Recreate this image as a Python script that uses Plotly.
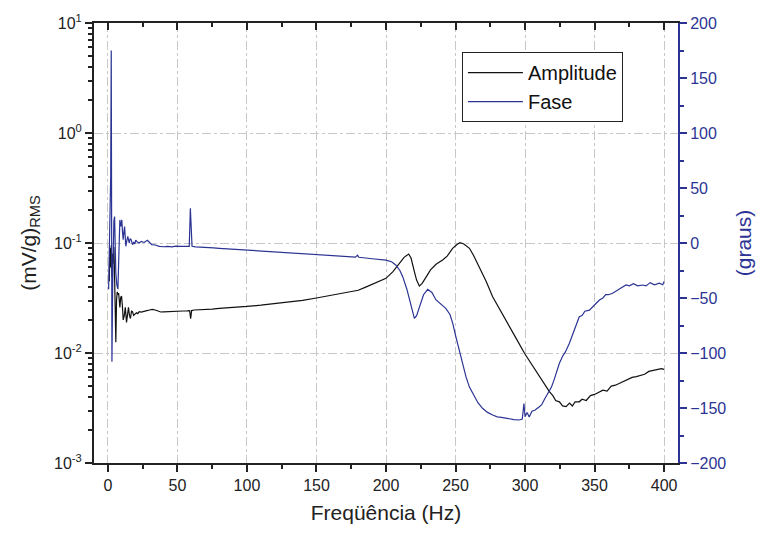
import plotly.graph_objects as go

# ---- data ----
amp_freq = [1.0, 1.4, 1.9, 2.4, 2.9, 3.3, 3.8, 4.3, 4.8, 5.3, 5.7, 6.2, 6.7, 7.2, 7.7, 8.2, 8.6, 9.2, 9.8,
            10.4, 11.0, 11.8, 12.5, 13.4, 14.2, 14.8, 15.5, 16.2, 17.0, 17.7, 18.5, 19.5, 20.5, 21.5, 22.5,
            24, 26, 28, 30, 32, 34, 36, 38, 40, 42, 45, 48, 51, 54, 57, 58.8, 59.5, 60.2, 62, 66, 70, 75,
            80, 85, 90, 95, 100, 110, 120, 130, 140, 150, 160, 170, 180, 185, 190, 195, 200, 205, 209.6,
            213, 216.3, 218, 220.4, 222, 224, 226, 228.8, 232, 236, 240.7, 244, 247.9, 251, 253.2, 256,
            260, 263, 267, 272, 276.7, 282, 288.7, 294, 299.7, 305, 310.3, 314, 317.5, 320, 322, 324.7,
            327, 329.5, 332, 334, 336, 339, 341, 344, 347, 350, 353, 356, 359, 362, 365, 368, 371, 374,
            377, 380, 383, 386, 389, 392, 395, 398, 400]
amplitude = [0.045, 0.09, 0.06, 0.095, 0.049, 0.08, 0.065, 0.092, 0.05, 0.03, 0.0125, 0.03, 0.036, 0.034,
             0.035, 0.03, 0.026, 0.032, 0.033, 0.027, 0.020, 0.022, 0.026, 0.019, 0.023, 0.026, 0.022,
             0.0206, 0.024, 0.0238, 0.022, 0.0225, 0.0232, 0.0228, 0.0238, 0.0235, 0.0241, 0.0243,
             0.0246, 0.0249, 0.0246, 0.0242, 0.0236, 0.0237, 0.0238, 0.0240, 0.0239, 0.0240, 0.0241,
             0.0242, 0.0243, 0.0205, 0.0243, 0.0246, 0.0247, 0.0249, 0.0251, 0.0255, 0.0257, 0.0259,
             0.0262, 0.0265, 0.0272, 0.0281, 0.0290, 0.0301, 0.0316, 0.0334, 0.0352, 0.0372, 0.0395,
             0.042, 0.0445, 0.0477, 0.055, 0.0653, 0.074, 0.0794, 0.073, 0.055, 0.046, 0.0406, 0.043,
             0.049, 0.057, 0.064, 0.070, 0.076, 0.0895, 0.097, 0.1006, 0.098, 0.0895, 0.077, 0.061,
             0.045, 0.0325, 0.0245, 0.0174, 0.0133, 0.0099, 0.0078, 0.0061, 0.0052, 0.00445, 0.0041,
             0.0037, 0.0036, 0.0033, 0.00325, 0.0035, 0.0033, 0.0036, 0.0036, 0.0038, 0.0037, 0.0041,
             0.0042, 0.0044, 0.0046, 0.0045, 0.0050, 0.0051, 0.0053, 0.0055, 0.0057, 0.0060, 0.0061,
             0.0063, 0.0064, 0.0068, 0.0069, 0.0070, 0.0072, 0.0071]

phase_freq = [0.5, 1.4, 2.0, 2.4, 2.9, 3.4, 3.8, 4.3, 4.8, 5.2, 5.7, 6.4, 7.2, 7.9, 8.6, 9.3, 10.0, 10.5,
              11.0, 11.5, 12.0, 12.5, 12.9, 13.6, 14.3, 15.3, 16.0, 16.7, 17.7, 18.6, 19.3, 20, 21, 22.5,
              24, 26, 28.4, 30, 31.5, 34, 37, 40, 43, 46, 49, 52, 55, 58.5, 59.3, 60.0, 60.5, 63, 67, 72,
              76, 80, 85, 90, 95, 100, 110, 120, 130, 140, 150, 160, 170, 178, 179.5, 180.5, 190, 200,
              204, 207, 210, 212, 215, 217, 219, 220.4, 222, 224, 227, 230, 233, 236, 240, 243, 246, 248,
              250, 252.7, 255, 257.5, 260, 262.3, 266, 269.4, 273, 276.7, 280, 283, 286.2, 289, 292,
              295.8, 298, 299.2, 300, 301.5, 303, 305, 307, 310.3, 312, 314, 317.5, 319, 321, 324.7, 327,
              329, 331.9, 334, 336, 339, 341, 343, 346.3, 349, 351, 353.5, 356, 358, 360, 363, 366, 369,
              372.6, 375, 378, 381, 384.6, 387, 390, 393, 396.6, 399, 400]
phase = [-42, 10, 60, 175, -108, -40, 12, 20, 24, -5, -27, -38, -42, -10, 21, 15, 21, 10, 3, 10, 15, 5,
         -3, 2, 6, 0, 4, 3, -1.5, 1, -1, 2.7, 1, 0, 1.5, 0.5, 2.5, 0.5, -1.5, -1.8, -3, -3.4, -3, -3.5,
         -2.8, -3, -2.8, -3, 31.5, 10, -3, -3.5, -4, -4.2, -4.5, -4.8, -5.2, -5.6, -6, -6.4, -7.2, -8,
         -9, -9.7, -10.4, -11.3, -12.2, -12.8, -11, -13, -14.3, -15.5, -17, -20, -25, -30.6, -42,
         -51.8, -63, -68.5, -66, -57.9, -47, -42.1, -45, -51.8, -56, -59.4, -65, -73, -84, -97.3, -110,
         -121.5, -131, -136.6, -145, -150.3, -154, -156.4, -158, -158.5, -159.4, -160, -160.5, -160.9,
         -160, -146, -158, -154, -158.2, -153, -152, -148.8, -147, -142, -133.6, -131, -124, -109.4,
         -103, -99, -91.2, -84, -77, -67, -66, -62, -61, -57, -55, -51.8, -50, -47, -47, -45.7, -43,
         -41, -38.2, -39, -37, -39, -38.2, -39, -36, -38, -36.6, -38, -35]

log_decades = [-3, -2, -1, 0, 1]
x_major = [0, 50, 100, 150, 200, 250, 300, 350, 400]

BLUE = "#2B3494"
FONT = "Liberation Sans, Arial, sans-serif"

fig = go.Figure()
fig.add_trace(go.Scatter(x=amp_freq, y=amplitude, mode="lines", name="Amplitude",
                         line=dict(color="#111111", width=1.2), yaxis="y"))
fig.add_trace(go.Scatter(x=phase_freq, y=phase, mode="lines", name="Fase",
                         line=dict(color=BLUE, width=1.2), yaxis="y2"))
# invisible trace to carry the top axis
fig.add_trace(go.Scatter(x=[x_major[0]], y=[amplitude[0]], mode="markers", marker=dict(opacity=0),
                         showlegend=False, hoverinfo="skip", xaxis="x2", yaxis="y"))

minor_vals = [m * 10 ** d for d in log_decades[:-1] for m in range(2, 10)]
x_minor = [25 + 50 * i for i in range(8)]

fig.update_layout(
    width=758, height=533,
    margin=dict(l=94, r=80, t=23, b=70),
    paper_bgcolor="white", plot_bgcolor="white",
    font=dict(family=FONT, size=16, color="#222222"),
    xaxis=dict(range=[-10, 410], tickvals=x_major, ticks="outside", ticklen=7, tickwidth=1.5,
               tickcolor="#222222", showline=True, linecolor="#222222", linewidth=2,
               showgrid=True, gridcolor="#c8c8c8", griddash="dashdot", gridwidth=1, zeroline=False,
               automargin=False,
               minor=dict(tickvals=x_minor, ticks="outside", ticklen=4,
                          tickcolor="#222222", tickwidth=1.5, showgrid=False),
               title=dict(text="Freqüência (Hz)", font=dict(size=21), standoff=12)),
    xaxis2=dict(range=[-10, 410], overlaying="x", side="top", anchor="y", tickvals=x_major,
                ticks="inside", ticklen=7, tickwidth=1.5, tickcolor="#222222", showticklabels=False,
                showline=True, linecolor="#222222", linewidth=2, showgrid=False, zeroline=False,
                automargin=False,
                minor=dict(tickvals=x_minor, ticks="inside", ticklen=4,
                           tickcolor="#222222", tickwidth=1.5)),
    yaxis=dict(type="log", range=[-3, 1], tickvals=[10 ** d for d in log_decades],
               ticktext=["10<sup>%d</sup>" % d for d in log_decades],
               ticks="outside", ticklen=7, tickwidth=1.5, tickcolor="#222222",
               showline=True, linecolor="#222222", linewidth=2, automargin=False,
               showgrid=True, gridcolor="#c8c8c8", griddash="dashdot", gridwidth=1, zeroline=False,
               minor=dict(tickvals=minor_vals, ticks="outside", ticklen=4, tickcolor="#222222",
                          tickwidth=1.5, showgrid=False),
               title=dict(text="(mV/g)<sub>RMS</sub>", font=dict(size=21), standoff=12)),
    yaxis2=dict(range=[-200, 200], overlaying="y", side="right", dtick=50, tick0=0,
                ticks="outside", ticklen=7, tickwidth=1.5, tickcolor=BLUE, automargin=False,
                tickfont=dict(color=BLUE), showline=True, linecolor=BLUE, linewidth=2,
                showgrid=False, zeroline=False,
                minor=dict(dtick=25, ticks="outside", ticklen=4, tickcolor=BLUE, tickwidth=1.5,
                           showgrid=False),
                title=dict(text="(graus)", font=dict(size=21, color=BLUE), standoff=11)),
    legend=dict(x=0.63, y=0.934, xanchor="left", yanchor="top", bgcolor="white",
                bordercolor="#222222", borderwidth=1, font=dict(size=20, color="#111111"),
                itemwidth=55, tracegroupgap=0),
    showlegend=True,
)

fig.write_html("out.html")
